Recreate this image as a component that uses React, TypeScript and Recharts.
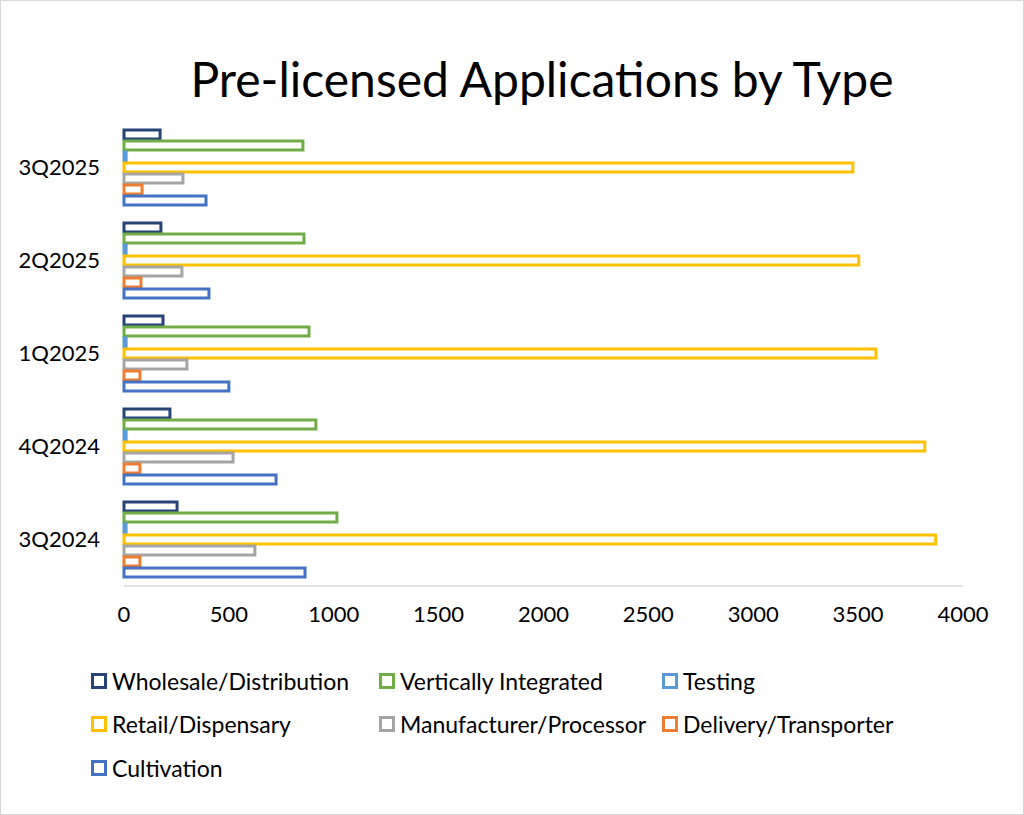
import React from "react";
import { BarChart, Bar, XAxis, YAxis } from "recharts";

// categories, top to bottom as drawn
const quarters = ["3Q2025", "2Q2025", "1Q2025", "4Q2024", "3Q2024"];

const wholesale = [172, 176, 186, 219, 253];
const vertical = [853, 858, 882, 915, 1015];
const testing = [10, 10, 10, 10, 10];
const retail = [3475, 3503, 3585, 3818, 3870];
const manufacturer = [281, 276, 300, 520, 624];
const delivery = [86, 81, 76, 76, 76];
const cultivation = [391, 405, 500, 725, 863];

const xTicks = [0, 500, 1000, 1500, 2000, 2500, 3000, 3500, 4000];

const series = [
  { key: "wholesale", name: "Wholesale/Distribution", color: "#264478", values: wholesale },
  { key: "vertical", name: "Vertically Integrated", color: "#70AD47", values: vertical },
  { key: "testing", name: "Testing", color: "#5B9BD5", values: testing },
  { key: "retail", name: "Retail/Dispensary", color: "#FFC000", values: retail },
  { key: "manufacturer", name: "Manufacturer/Processor", color: "#A5A5A5", values: manufacturer },
  { key: "delivery", name: "Delivery/Transporter", color: "#ED7D31", values: delivery },
  { key: "cultivation", name: "Cultivation", color: "#4472C4", values: cultivation },
];

const data = quarters.map((q, i) => {
  const row: Record<string, string | number> = { quarter: q };
  series.forEach((s) => {
    row[s.key] = s.values[i];
  });
  return row;
});

const FONT = "Lato, 'Noto Sans', sans-serif";
const legendCols = [90, 378, 661];
const legendRows = [680, 723, 767];

const App: React.FC = () => {
  return (
    <div
      style={{
        position: "absolute",
        left: 0,
        top: 0,
        width: 1024,
        height: 815,
        boxSizing: "border-box",
        border: "1px solid #d9d9d9",
        background: "#fff",
        fontFamily: FONT,
      }}
    >
      <div
        style={{
          position: "absolute",
          left: 0,
          width: 1082,
          top: 48,
          textAlign: "center",
          fontSize: 48,
          lineHeight: "60px",
          color: "#000",
        }}
      >
        Pre-licensed Applications by Type
      </div>

      <div style={{ position: "absolute", left: -1, top: -1 }}>
        <BarChart
          width={1024}
          height={815}
          data={data}
          layout="vertical"
          margin={{ top: 121, right: 61, bottom: 189, left: 0 }}
          barGap={2}
          barSize={9}
        >
          <XAxis
            type="number"
            domain={[0, 4000]}
            ticks={xTicks}
            tickLine={false}
            axisLine={{ stroke: "#d9d9d9", strokeWidth: 1.5 }}
            tickMargin={14}
            height={40}
            tick={{ fill: "#000", fontSize: 22, fontFamily: FONT }}
            interval={0}
          />
          <YAxis
            type="category"
            dataKey="quarter"
            width={124}
            axisLine={false}
            tickLine={false}
            tickMargin={18}
            tick={{ fill: "#000", fontSize: 22, fontFamily: FONT }}
          />
          {series.map((s) => (
            <Bar
              key={s.key}
              dataKey={s.key}
              name={s.name}
              fill="#ffffff"
              stroke={s.color}
              strokeWidth={3}
              isAnimationActive={false}
            />
          ))}
        </BarChart>
      </div>

      {series.map((s, i) => {
        const col = i % 3;
        const row = Math.floor(i / 3);
        return (
          <div
            key={s.key}
            style={{
              position: "absolute",
              left: legendCols[col],
              top: legendRows[row] - 15,
              height: 30,
              display: "flex",
              alignItems: "center",
              fontSize: 23,
              color: "#000",
              whiteSpace: "nowrap",
            }}
          >
            <span
              style={{
                display: "inline-block",
                width: 10,
                height: 10,
                border: `3px solid ${s.color}`,
                background: "#fff",
                marginRight: 5,
              }}
            />
            {s.name}
          </div>
        );
      })}
    </div>
  );
};

export default App;
